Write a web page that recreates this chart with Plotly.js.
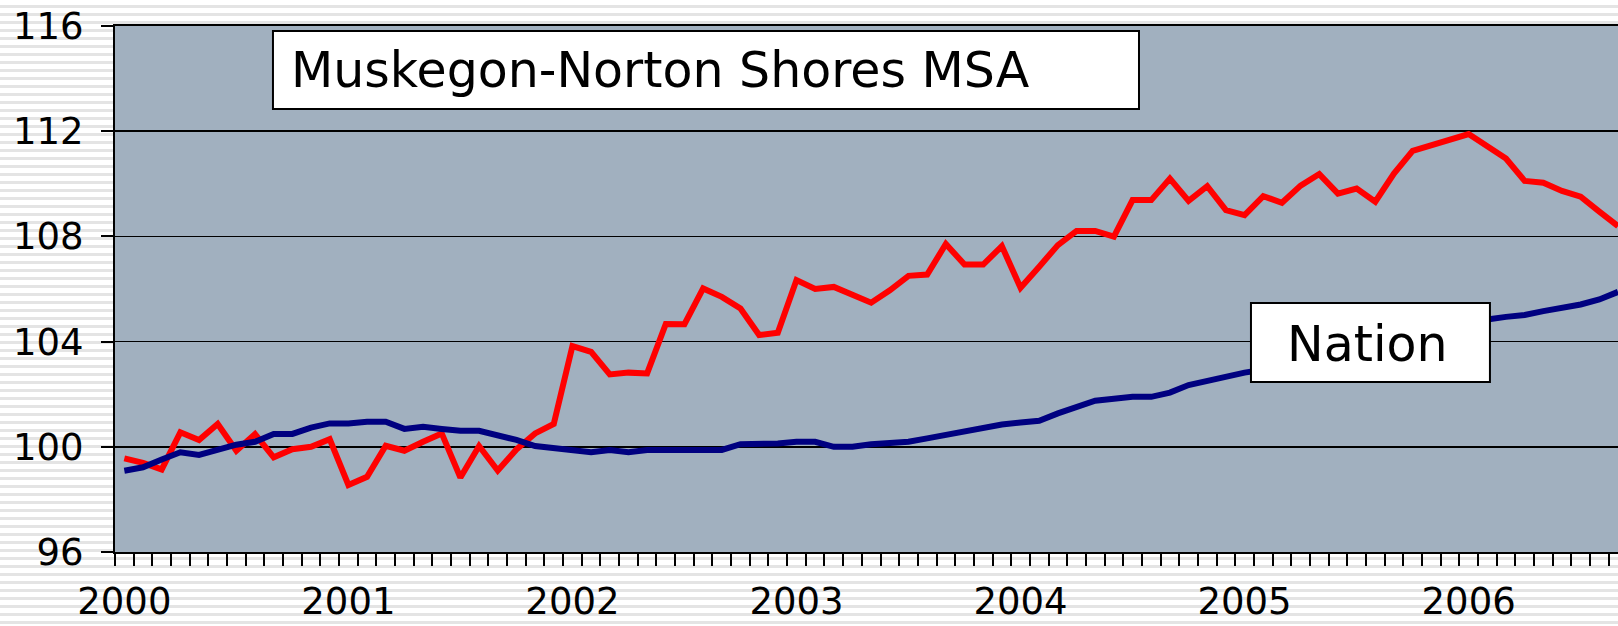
<!DOCTYPE html>
<html><head><meta charset="utf-8">
<script src="https://cdn.plot.ly/plotly-3.0.1.min.js"></script>
<style>
html,body{margin:0;padding:0;overflow:hidden;width:1618px;height:626px;
background:repeating-linear-gradient(to bottom,#ffffff 0px,#ffffff 5px,#e4e4e4 5px,#e4e4e4 8px);}
#chart{width:1618px;height:626px;}
</style></head><body><div id="chart"></div>
<script>
const years = ['2000','2001','2002','2003','2004','2005','2006'];
const msaName = 'Muskegon-Norton Shores MSA';
const nationName = 'Nation';
const msa = [99.56,99.39,99.14,100.55,100.26,100.87,99.85,100.48,99.60,99.91,100.00,100.29,
  98.55,98.86,100.04,99.85,100.19,100.51,98.83,100.03,99.10,99.90,100.51,100.87,
  103.83,103.61,102.75,102.82,102.79,104.67,104.66,106.02,105.70,105.26,104.25,104.34,
  106.34,106.00,106.08,105.81,105.48,105.95,106.50,106.55,107.71,106.93,106.93,107.63,
  106.05,106.85,107.67,108.21,108.21,107.99,109.38,109.38,110.20,109.35,109.91,109.00,
  108.81,109.53,109.28,109.93,110.37,109.63,109.82,109.32,110.39,111.25,111.47,111.72,
  111.89,111.43,110.96,110.11,110.04,109.73,109.51,108.94,108.39];
const nation = [99.09,99.22,99.52,99.79,99.69,99.91,100.08,100.19,100.49,100.49,100.73,100.89,
  100.89,100.95,100.95,100.68,100.76,100.68,100.61,100.61,100.45,100.26,100.03,99.94,
  99.88,99.79,99.88,99.79,99.88,99.88,99.88,99.88,99.88,100.10,100.10,100.13,
  100.19,100.19,100.00,100.00,100.10,100.12,100.19,100.32,100.45,100.61,100.70,100.85,
  100.92,100.99,101.27,101.50,101.75,101.83,101.90,101.90,102.06,102.35,102.51,102.66,
  102.82,102.93,103.05,103.22,103.36,103.52,103.68,103.81,103.98,104.16,104.33,104.52,
  104.68,104.84,104.94,105.01,105.16,105.26,105.41,105.60,105.89];
const yTicks = [96,100,104,108,112,116];

const monthsPerYear = 12;
const idx = msa.map((_, i) => i);
const nMonths = years.length * monthsPerYear;
const boundaries = [];
for (let k = 0; k <= nMonths; k++) boundaries.push(k - 0.5);
const yearPos = years.map((_, j) => j * monthsPerYear);
const xRange = [-0.5, 80.0];
const font = 'DejaVu Sans, Verdana, sans-serif';

const traces = [
  {x: idx, y: msa, type: 'scatter', mode: 'lines', name: msaName,
   line: {color: '#ff0000', width: 6}, hoverinfo: 'skip'},
  {x: idx, y: nation, type: 'scatter', mode: 'lines', name: nationName,
   line: {color: '#000080', width: 6}, hoverinfo: 'skip'},
  {x: idx, y: nation, type: 'scatter', mode: 'lines', xaxis: 'x2', yaxis: 'y',
   line: {color: 'rgba(0,0,0,0)', width: 0}, hoverinfo: 'skip', showlegend: false}
];

const layout = {
  width: 1618, height: 626,
  margin: {l: 115, r: 0, t: 26, b: 74, pad: 0},
  paper_bgcolor: 'rgba(0,0,0,0)',
  plot_bgcolor: '#a1b0bf',
  showlegend: false,
  font: {family: font, color: '#000'},
  xaxis: {
    range: xRange, tickmode: 'array', tickvals: boundaries,
    ticks: 'outside', ticklen: 12, tickwidth: 2, tickcolor: '#000',
    showticklabels: false, showgrid: false, zeroline: false,
    showline: true, linecolor: '#000', linewidth: 2, mirror: true, fixedrange: true
  },
  xaxis2: {
    overlaying: 'x', anchor: 'y', side: 'bottom', range: xRange,
    tickmode: 'array', tickvals: yearPos, ticktext: years,
    ticks: '', showgrid: false, zeroline: false, showline: false,
    tickfont: {family: font, size: 37, color: '#000'}, ticklabelstandoff: 24, fixedrange: true
  },
  yaxis: {
    range: [96, 116], tickmode: 'array', tickvals: yTicks, ticktext: yTicks.map(String),
    ticks: 'outside', ticklen: 12, tickwidth: 2, tickcolor: '#000',
    showgrid: true, gridcolor: '#000', gridwidth: 1.5, zeroline: false,
    showline: true, linecolor: '#000', linewidth: 2,
    tickfont: {family: font, size: 37, color: '#000'}, ticklabelstandoff: 10, fixedrange: true
  },
  shapes: [
    {type: 'rect', xref: 'paper', yref: 'paper', x0: 0.1051, x1: 0.6813, y0: 0.8422, y1: 0.9905,
     fillcolor: '#ffffff', line: {color: '#000', width: 2}, layer: 'above'},
    {type: 'rect', xref: 'paper', yref: 'paper', x0: 0.7558, x1: 0.9148, y0: 0.3232, y1: 0.4734,
     fillcolor: '#ffffff', line: {color: '#000', width: 2}, layer: 'above'}
  ],
  annotations: [
    {text: msaName, xref: 'paper', yref: 'paper', x: 0.1158, y: 0.9163,
     xanchor: 'left', yanchor: 'middle', showarrow: false,
     font: {family: font, size: 49, color: '#000'}},
    {text: nationName, xref: 'paper', yref: 'paper', x: 0.7784, y: 0.3954,
     xanchor: 'left', yanchor: 'middle', showarrow: false,
     font: {family: font, size: 49, color: '#000'}}
  ]
};

Plotly.newPlot('chart', traces, layout, {displayModeBar: false, staticPlot: true});
</script></body></html>
